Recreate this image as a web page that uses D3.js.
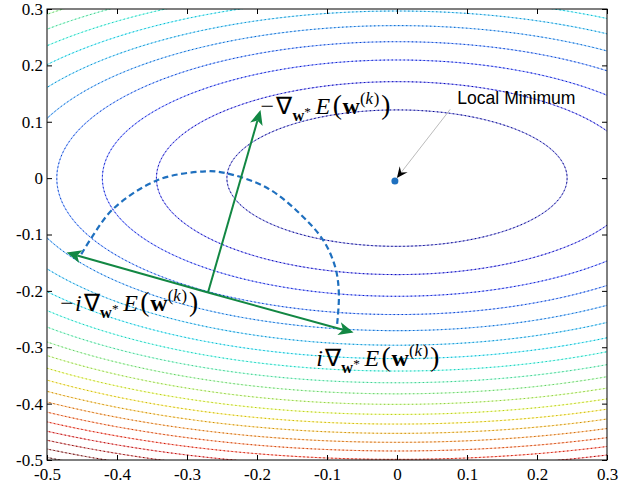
<!DOCTYPE html>
<html>
<head>
<meta charset="utf-8">
<script src="https://cdn.jsdelivr.net/npm/d3@7"></script>
<style>
  body { margin: 0; background: #fff; }
  .tick text { font-family: "Liberation Serif", "Times New Roman", serif; font-size: 17px; }
</style>
</head>
<body>
<div id="chart"></div>
<script>
// Axis ticks
const xTicks = [-0.5, -0.4, -0.3, -0.2, -0.1, 0, 0.1, 0.2, 0.3];
const xTickLabels = ["-0.5", "-0.4", "-0.3", "-0.2", "-0.1", "0", "0.1", "0.2", "0.3"];
const yTicks = [-0.5, -0.4, -0.3, -0.2, -0.1, 0, 0.1, 0.2, 0.3];
const yTickLabels = ["-0.5", "-0.4", "-0.3", "-0.2", "-0.1", "0", "0.1", "0.2", "0.3"];

// Contour levels of E and the semi-axes of the E = 1 ellipse
const levels = [1, 2, 3, 4, 5, 6, 7, 8, 9, 10, 11, 12, 13, 14, 15, 16, 17, 18, 19, 20, 21];
const semiAxes = [0.243, 0.121];
const colorRange = [0, 20];

// Points
const minimum = [-0.003, -0.005];
const basePoint = [-0.27, -0.203];
const gradTip = [-0.195, 0.121];
const leftTip = [-0.472, -0.132];
const rightTip = [-0.062, -0.274];

// Dashed arc
const arcX = [-0.451, -0.436, -0.405, -0.341, -0.274, -0.245, -0.186, -0.138, -0.105, -0.088, -0.083, -0.086];
const arcY = [-0.135, -0.105, -0.054, -0.003, 0.012, 0.009, -0.017, -0.064, -0.111, -0.159, -0.206, -0.265];

// Annotation
const annotText = "Local Minimum";
const annotPos = [0.086, 0.131];
const annotStart = [0.076, 0.122];

// Math labels
const labelPos = [[-0.195, 0.114], [-0.481, -0.2355], [-0.117, -0.333]];
const labelPrefix = ["−", "−i", "i"];

const margin = { top: 9, right: 32, bottom: 27, left: 47 };
const width = 639 - margin.left - margin.right;
const height = 487 - margin.top - margin.bottom;

const svg = d3.select("#chart")
    .append("svg")
    .attr("width", 639)
    .attr("height", 487)
    .attr("font-family", "'Liberation Serif', 'Times New Roman', serif");

const g = svg.append("g")
    .attr("transform", "translate(" + margin.left + "," + margin.top + ")");

const xScale = d3.scaleLinear().domain([-0.5, 0.3]).range([0, width]);
const yScale = d3.scaleLinear().domain([-0.5, 0.3]).range([height, 0]);

// jet colormap
function jet(t) {
    const c = v => Math.max(0, Math.min(1, v));
    const r = c(1.5 - Math.abs(4 * t - 3));
    const gg = c(1.5 - Math.abs(4 * t - 2));
    const b = c(1.5 - Math.abs(4 * t - 1));
    return d3.rgb(r * 255, gg * 255, b * 255);
}
const colorT = d3.scaleLinear().domain(colorRange).range([0, 1]);

svg.append("defs").append("clipPath").attr("id", "plotclip")
    .append("rect").attr("width", width).attr("height", height);

// Contour field on a grid slightly larger than the plot
const step = 0.002, gx0 = -0.52, gy0 = -0.52, n = 420, m = 420;
const values = new Array(n * m);
for (let j = 0; j < m; j++) {
    for (let i = 0; i < n; i++) {
        const x = gx0 + (i + 0.5) * step, y = gy0 + (j + 0.5) * step;
        values[j * n + i] = (x / semiAxes[0]) ** 2 + (y / semiAxes[1]) ** 2;
    }
}
const contours = d3.contours().size([n, m]).thresholds(levels)(values);
const proj = d3.geoTransform({
    point: function (x, y) {
        this.stream.point(xScale(gx0 + x * step), yScale(gy0 + y * step));
    }
});
const path = d3.geoPath(proj);

const cg = g.append("g").attr("clip-path", "url(#plotclip)");
// pale base stroke
cg.selectAll("path.pale")
    .data(contours)
    .join("path")
    .attr("class", "pale")
    .attr("d", path)
    .attr("fill", "none")
    .attr("stroke", d => d3.interpolateRgb(jet(colorT(d.value)), "#fff")(0.65))
    .attr("stroke-width", 1.1);
// dotted darker overlay
cg.selectAll("path.dots")
    .data(contours)
    .join("path")
    .attr("class", "dots")
    .attr("d", path)
    .attr("fill", "none")
    .attr("stroke", d => jet(colorT(d.value)).darker(0.7))
    .attr("stroke-width", 1)
    .attr("stroke-dasharray", "1.5,2.5");

// Axes: inward ticks on all sides
g.append("g")
    .attr("transform", "translate(0," + height + ")")
    .call(d3.axisBottom(xScale).tickValues(xTicks)
        .tickFormat((d, i) => xTickLabels[i]).tickSizeInner(-5).tickSizeOuter(0).tickPadding(8))
    .attr("font-family", "'Liberation Serif', 'Times New Roman', serif")
    .attr("font-size", 17);
g.append("g")
    .call(d3.axisLeft(yScale).tickValues(yTicks)
        .tickFormat((d, i) => yTickLabels[i]).tickSizeInner(-5).tickSizeOuter(0).tickPadding(4))
    .attr("font-family", "'Liberation Serif', 'Times New Roman', serif")
    .attr("font-size", 17);
g.append("g")
    .call(d3.axisTop(xScale).tickValues(xTicks).tickFormat("").tickSizeInner(-5).tickSizeOuter(0));
g.append("g")
    .attr("transform", "translate(" + width + ",0)")
    .call(d3.axisRight(yScale).tickValues(yTicks).tickFormat("").tickSizeInner(-5).tickSizeOuter(0));
g.selectAll(".domain").remove();
g.selectAll(".tick line").attr("stroke", "#000");
g.selectAll(".tick text").attr("fill", "#000");
g.append("rect")
    .attr("width", width).attr("height", height)
    .attr("fill", "none").attr("stroke", "#000").attr("stroke-width", 1);

// Dashed arc
const arcData = arcX.map((x, i) => [x, arcY[i]]);
g.append("path")
    .datum(arcData)
    .attr("d", d3.line().x(d => xScale(d[0])).y(d => yScale(d[1])).curve(d3.curveCatmullRom))
    .attr("fill", "none")
    .attr("stroke", "#1f70bf")
    .attr("stroke-width", 2.2)
    .attr("stroke-dasharray", "6,3.5");

// Arrow helper (MATLAB style head with a notch)
function arrowHead(x2, y2, ux, uy, len, half, notch, color) {
    const px = -uy, py = ux;
    const pts = [
        [x2, y2],
        [x2 - ux * len + px * half, y2 - uy * len + py * half],
        [x2 - ux * (len - notch), y2 - uy * (len - notch)],
        [x2 - ux * len - px * half, y2 - uy * len - py * half]
    ];
    g.append("path")
        .attr("d", "M" + pts.map(p => p.join(",")).join("L") + "Z")
        .attr("fill", color);
}
function arrow(from, to, color, w, len, half, notch) {
    const x1 = xScale(from[0]), y1 = yScale(from[1]);
    const x2 = xScale(to[0]), y2 = yScale(to[1]);
    const L = Math.hypot(x2 - x1, y2 - y1);
    const ux = (x2 - x1) / L, uy = (y2 - y1) / L;
    g.append("line")
        .attr("x1", x1).attr("y1", y1)
        .attr("x2", x2 - ux * (len - notch)).attr("y2", y2 - uy * (len - notch))
        .attr("stroke", color).attr("stroke-width", w);
    arrowHead(x2, y2, ux, uy, len, half, notch, color);
}

const green = "#128743";
arrow(basePoint, gradTip, green, 2, 15, 6.5, 4);
arrow(basePoint, leftTip, green, 2, 15, 6.5, 4);
arrow(basePoint, rightTip, green, 2, 15, 6.5, 4);

// Annotation arrow
(function () {
    const x1 = xScale(annotStart[0]), y1 = yScale(annotStart[1]);
    const x2 = xScale(minimum[0]) + 2, y2 = yScale(minimum[1]) - 3;
    const L = Math.hypot(x2 - x1, y2 - y1);
    const ux = (x2 - x1) / L, uy = (y2 - y1) / L;
    g.append("line")
        .attr("x1", x1).attr("y1", y1).attr("x2", x2 - ux * 6).attr("y2", y2 - uy * 6)
        .attr("stroke", "#aaa").attr("stroke-width", 0.8);
    arrowHead(x2, y2, ux, uy, 11, 5, 4, "#000");
})();

g.append("circle")
    .attr("cx", xScale(minimum[0])).attr("cy", yScale(minimum[1]))
    .attr("r", 3.5).attr("fill", "#1f70bf");

g.append("text")
    .attr("x", xScale(annotPos[0])).attr("y", yScale(annotPos[1]))
    .attr("font-family", "'Liberation Sans', Arial, sans-serif")
    .attr("font-size", 17.6)
    .attr("fill", "#000")
    .text(annotText);

function mathLabel(pos, prefix, fs) {
    const t = g.append("text")
        .attr("x", xScale(pos[0])).attr("y", yScale(pos[1]))
        .attr("fill", "#000")
        .attr("font-size", fs);
    const parts = [];
    if (prefix.startsWith("−")) parts.push({ s: "−", off: 0 });
    if (prefix.includes("i")) parts.push({ s: "i", off: 0, it: true, pre: 0.05 });
    parts.push({ s: "∇", off: 0, pre: 0.08 });
    parts.push({ s: "w", off: 0.3, bold: true, size: 0.68, pre: 0.02 });
    parts.push({ s: "*", off: 0.07, size: 0.55 });
    parts.push({ s: "E", off: 0, it: true, pre: 0.2 });
    parts.push({ s: "(", off: 0, size: 1.15, pre: 0.1 });
    parts.push({ s: "w", off: 0, bold: true, pre: 0.03 });
    parts.push({ s: "(", off: -0.42, size: 0.7 });
    parts.push({ s: "k", off: -0.42, size: 0.7, it: true });
    parts.push({ s: ")", off: -0.42, size: 0.7, pre: 0.03 });
    parts.push({ s: ")", off: 0, size: 1.15, pre: 0.08 });
    let cur = 0;
    parts.forEach(p => {
        const span = t.append("tspan")
            .attr("dy", (p.off - cur) * fs)
            .attr("font-size", (p.size || 1) * fs)
            .text(p.s);
        if (p.pre) span.attr("dx", p.pre * fs);
        if (p.bold) span.attr("font-weight", "bold");
        if (p.it) span.attr("font-style", "italic");
        cur = p.off;
    });
}
labelPos.forEach((p, i) => mathLabel(p, labelPrefix[i], 24));
</script>
</body>
</html>
